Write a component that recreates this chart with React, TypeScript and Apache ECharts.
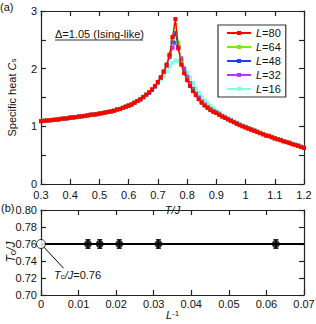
import React, { useEffect, useRef } from "react";
import * as echarts from "echarts";

// ---------- Data (panel a) ----------
const T = [
  0.30, 0.31, 0.32, 0.33, 0.34, 0.35, 0.36, 0.37, 0.38, 0.39,
  0.40, 0.41, 0.42, 0.43, 0.44, 0.45, 0.46, 0.47, 0.48, 0.49,
  0.50, 0.51, 0.52, 0.53, 0.54, 0.55, 0.56, 0.57, 0.58, 0.59,
  0.60, 0.61, 0.62, 0.63, 0.64, 0.65, 0.66, 0.67, 0.68, 0.69,
  0.70, 0.71, 0.72, 0.73, 0.74, 0.75, 0.76, 0.77, 0.78, 0.79,
  0.80, 0.81, 0.82, 0.83, 0.84, 0.85, 0.86, 0.87, 0.88, 0.89,
  0.90, 0.91, 0.92, 0.93, 0.94, 0.95, 0.96, 0.97, 0.98, 0.99,
  1.00, 1.01, 1.02, 1.03, 1.04, 1.05, 1.06, 1.07, 1.08, 1.09,
  1.10, 1.11, 1.12, 1.13, 1.14, 1.15, 1.16, 1.17, 1.18, 1.19,
  1.20,
];

const cs80 = [
  1.09, 1.095, 1.10, 1.105, 1.11, 1.115, 1.12, 1.13, 1.135, 1.14,
  1.15, 1.155, 1.16, 1.17, 1.175, 1.18, 1.19, 1.20, 1.205, 1.21,
  1.22, 1.23, 1.24, 1.25, 1.26, 1.27, 1.29, 1.30, 1.32, 1.34,
  1.36, 1.38, 1.41, 1.44, 1.47, 1.51, 1.55, 1.59, 1.64, 1.70,
  1.77, 1.85, 1.95, 2.07, 2.24, 2.55, 2.86, 2.35, 2.07, 1.92,
  1.80, 1.70, 1.61, 1.54, 1.47, 1.41, 1.36, 1.32, 1.28, 1.25,
  1.23, 1.20, 1.17, 1.145, 1.12, 1.095, 1.07, 1.045, 1.02, 1.00,
  0.98, 0.96, 0.94, 0.92, 0.90, 0.88, 0.86, 0.84, 0.83, 0.81,
  0.79, 0.775, 0.76, 0.74, 0.725, 0.71, 0.69, 0.675, 0.66, 0.64,
  0.625,
];

const cs64 = [
  1.092, 1.098, 1.10, 1.108, 1.112, 1.118, 1.122, 1.13, 1.137, 1.143,
  1.152, 1.157, 1.163, 1.17, 1.177, 1.183, 1.19, 1.20, 1.207, 1.213,
  1.222, 1.232, 1.242, 1.252, 1.263, 1.274, 1.29, 1.303, 1.322, 1.342,
  1.362, 1.383, 1.41, 1.44, 1.47, 1.51, 1.55, 1.595, 1.645, 1.70,
  1.77, 1.85, 1.95, 2.07, 2.24, 2.52, 2.76, 2.45, 2.10, 1.93,
  1.81, 1.71, 1.62, 1.545, 1.475, 1.415, 1.365, 1.325, 1.285, 1.255,
  1.232, 1.202, 1.172, 1.147, 1.122, 1.097, 1.072, 1.047, 1.022, 1.002,
  0.982, 0.962, 0.942, 0.922, 0.902, 0.882, 0.862, 0.843, 0.832, 0.812,
  0.792, 0.777, 0.762, 0.742, 0.727, 0.712, 0.692, 0.677, 0.662, 0.642,
  0.627,
];

const cs48 = [
  1.088, 1.093, 1.098, 1.103, 1.108, 1.113, 1.118, 1.128, 1.133, 1.138,
  1.148, 1.153, 1.158, 1.168, 1.173, 1.178, 1.188, 1.198, 1.203, 1.208,
  1.218, 1.228, 1.238, 1.248, 1.258, 1.268, 1.288, 1.298, 1.318, 1.338,
  1.358, 1.378, 1.408, 1.438, 1.468, 1.505, 1.545, 1.585, 1.635, 1.695,
  1.765, 1.845, 1.945, 2.06, 2.23, 2.47, 2.62, 2.38, 2.12, 1.95,
  1.82, 1.72, 1.63, 1.55, 1.48, 1.42, 1.37, 1.33, 1.29, 1.26,
  1.235, 1.205, 1.175, 1.15, 1.125, 1.10, 1.075, 1.05, 1.025, 1.005,
  0.985, 0.965, 0.945, 0.925, 0.905, 0.885, 0.865, 0.845, 0.835, 0.815,
  0.795, 0.78, 0.765, 0.745, 0.73, 0.715, 0.695, 0.68, 0.665, 0.645,
  0.63,
];

const cs32 = [
  1.092, 1.097, 1.102, 1.107, 1.112, 1.117, 1.122, 1.132, 1.137, 1.142,
  1.152, 1.157, 1.162, 1.172, 1.177, 1.182, 1.192, 1.202, 1.207, 1.212,
  1.222, 1.232, 1.242, 1.252, 1.262, 1.272, 1.292, 1.302, 1.322, 1.342,
  1.362, 1.382, 1.41, 1.44, 1.47, 1.505, 1.545, 1.585, 1.635, 1.69,
  1.76, 1.84, 1.94, 2.05, 2.20, 2.36, 2.45, 2.36, 2.18, 2.00,
  1.86, 1.75, 1.65, 1.57, 1.50, 1.43, 1.38, 1.335, 1.295, 1.26,
  1.235, 1.205, 1.175, 1.15, 1.125, 1.10, 1.075, 1.05, 1.025, 1.005,
  0.985, 0.965, 0.945, 0.925, 0.905, 0.885, 0.865, 0.845, 0.833, 0.813,
  0.793, 0.778, 0.763, 0.743, 0.728, 0.713, 0.693, 0.678, 0.663, 0.643,
  0.628,
];

const cs16 = [
  1.095, 1.10, 1.105, 1.11, 1.115, 1.12, 1.125, 1.133, 1.14, 1.145,
  1.153, 1.158, 1.163, 1.172, 1.178, 1.183, 1.192, 1.20, 1.207, 1.213,
  1.222, 1.232, 1.242, 1.252, 1.262, 1.272, 1.29, 1.30, 1.32, 1.34,
  1.358, 1.378, 1.405, 1.435, 1.465, 1.50, 1.54, 1.58, 1.63, 1.68,
  1.74, 1.81, 1.88, 1.96, 2.04, 2.10, 2.14, 2.13, 2.08, 2.01,
  1.93, 1.84, 1.75, 1.66, 1.58, 1.51, 1.45, 1.40, 1.35, 1.31,
  1.27, 1.24, 1.20, 1.17, 1.14, 1.115, 1.09, 1.065, 1.04, 1.015,
  0.995, 0.972, 0.95, 0.93, 0.91, 0.89, 0.87, 0.85, 0.838, 0.818,
  0.798, 0.782, 0.766, 0.746, 0.73, 0.715, 0.695, 0.68, 0.665, 0.645,
  0.63,
];

const seriesNames = ["L=16", "L=32", "L=48", "L=64", "L=80"];
const seriesColors = ["#80ffe0", "#bb33ff", "#1f3dff", "#77ee00", "#ff0000"];
const seriesValues = [cs16, cs32, cs48, cs64, cs80];

// ---------- Data (panel b) ----------
const invL = [0.0125, 0.015625, 0.020833, 0.03125, 0.0625];
const tcL = [0.76, 0.76, 0.76, 0.76, 0.76];
const tcErr = [0.005, 0.005, 0.005, 0.005, 0.005];
const tcExtrap = 0.76;
const invLRange = [0, 0.07];

const FONT = "'Liberation Sans', Arial, Helvetica, sans-serif";
const AX = "#222";

export default function App() {
  const ref = useRef<HTMLDivElement>(null);

  useEffect(() => {
    if (!ref.current) return;
    const chart = echarts.init(ref.current, undefined, { renderer: "svg" });

    const axisLine = { show: true, onZero: false, lineStyle: { color: AX, width: 1.2 } };
    const tick = (len: number) => ({
      show: true,
      inside: true,
      length: len,
      lineStyle: { color: AX, width: 1.2 },
    });
    const labelStyle = { color: "#111", fontSize: 11, fontFamily: FONT };

    const lineSeries = seriesNames.map((name, i) => ({
      name,
      type: "line",
      xAxisIndex: 0,
      yAxisIndex: 0,
      data: T.map((t, j) => [t, seriesValues[i][j]]),
      symbol: "rect",
      symbolSize: 4,
      showSymbol: true,
      lineStyle: { color: seriesColors[i], width: 1.3 },
      itemStyle: { color: seriesColors[i] },
      z: 2 + i,
    }));

    const option: any = {
      animation: false,
      textStyle: { fontFamily: FONT },
      grid: [
        { left: 41, right: 12, top: 11, bottom: 140, containLabel: false, outerBoundsMode: "none" },
        { left: 41, right: 12, top: 210, bottom: 29, containLabel: false, outerBoundsMode: "none" },
      ],
      legend: {
        data: ["L=80", "L=64", "L=48", "L=32", "L=16"],
        orient: "vertical",
        left: 218,
        top: 25,
        itemWidth: 24,
        itemHeight: 5,
        itemGap: 2,
        padding: [2, 5, 2, 8],
        borderColor: "#333",
        borderWidth: 1.2,
        backgroundColor: "#fff",
        formatter: (n: string) => "{i|L}=" + n.slice(2),
        textStyle: {
          fontSize: 11,
          fontFamily: FONT,
          color: "#111",
          lineHeight: 12,
          rich: { i: { fontStyle: "italic", fontSize: 11, fontFamily: FONT, lineHeight: 12 } },
        },
      },
      xAxis: [
        {
          gridIndex: 0,
          type: "value",
          min: 0.3,
          max: 1.2,
          interval: 0.1,
          position: "bottom",
          axisLine,
          axisTick: tick(5),
          splitLine: { show: false },
          axisLabel: { ...labelStyle, margin: 5 },
          name: "T/J",
          nameLocation: "middle",
          nameGap: 18,
          nameTextStyle: { fontStyle: "italic", fontSize: 11, color: "#111", fontFamily: FONT },
        },
        {
          gridIndex: 0,
          type: "value",
          min: 0.3,
          max: 1.2,
          interval: 0.1,
          position: "top",
          axisLine,
          axisTick: tick(5),
          splitLine: { show: false },
          axisLabel: { show: false },
        },
        {
          gridIndex: 1,
          type: "value",
          min: invLRange[0],
          max: invLRange[1],
          interval: 0.01,
          position: "bottom",
          axisLine,
          axisTick: tick(5),
          splitLine: { show: false },
          axisLabel: {
            ...labelStyle,
            margin: 3,
            formatter: (v: number) => (v === 0 ? "0" : v.toFixed(2)),
          },
          name: "{i|L}{sup|-1}",
          nameLocation: "middle",
          nameGap: 14,
          nameTextStyle: {
            color: "#111",
            fontFamily: FONT,
            rich: {
              i: { fontStyle: "italic", fontSize: 11, fontFamily: FONT, color: "#111" },
              sup: { fontSize: 8, verticalAlign: "top", fontFamily: FONT, color: "#111" },
            },
          },
        },
        {
          gridIndex: 1,
          type: "value",
          min: invLRange[0],
          max: invLRange[1],
          interval: 0.01,
          position: "top",
          axisLine,
          axisTick: tick(5),
          splitLine: { show: false },
          axisLabel: { show: false },
        },
      ],
      yAxis: [
        {
          gridIndex: 0,
          type: "value",
          min: 0,
          max: 3,
          interval: 0.5,
          position: "left",
          axisLine,
          axisTick: tick(5),
          splitLine: { show: false },
          axisLabel: {
            ...labelStyle,
            margin: 4,
            padding: [0, 0, 3, 0],
            formatter: (v: number) => (Math.abs(v - Math.round(v)) < 1e-9 ? String(Math.round(v)) : ""),
          },
          name: "Specific heat {i|C}{sub|s}",
          nameLocation: "middle",
          nameRotate: 90,
          nameGap: 24,
          nameTextStyle: {
            fontSize: 11,
            color: "#111",
            fontFamily: FONT,
            rich: {
              i: { fontStyle: "italic", fontSize: 11, fontFamily: FONT, color: "#111" },
              sub: { fontSize: 8, verticalAlign: "bottom", fontFamily: FONT, color: "#111" },
            },
          },
        },
        {
          gridIndex: 0,
          type: "value",
          min: 0,
          max: 3,
          interval: 0.5,
          position: "right",
          axisLine,
          axisTick: tick(5),
          splitLine: { show: false },
          axisLabel: { show: false },
        },
        {
          gridIndex: 1,
          type: "value",
          min: 0.7,
          max: 0.8,
          interval: 0.02,
          position: "left",
          axisLine,
          axisTick: tick(5),
          splitLine: { show: false },
          axisLabel: { ...labelStyle, margin: 4, formatter: (v: number) => v.toFixed(2) },
        },
        {
          gridIndex: 1,
          type: "value",
          min: 0.7,
          max: 0.8,
          interval: 0.02,
          position: "right",
          axisLine,
          axisTick: tick(5),
          splitLine: { show: false },
          axisLabel: { show: false },
        },
      ],
      series: [
        ...lineSeries,
        {
          name: "fit",
          type: "line",
          xAxisIndex: 2,
          yAxisIndex: 2,
          data: [
            [invLRange[0], tcExtrap],
            [invLRange[1], tcExtrap],
          ],
          showSymbol: false,
          symbol: "none",
          lineStyle: { color: "#000", width: 2 },
          z: 2,
        },
        {
          name: "leader",
          type: "line",
          xAxisIndex: 2,
          yAxisIndex: 2,
          data: [
            [0, tcExtrap],
            [0.006, 0.7315],
          ],
          symbol: "none",
          lineStyle: { color: "#000", width: 1 },
          z: 2,
        },
        {
          name: "err",
          type: "custom",
          xAxisIndex: 2,
          yAxisIndex: 2,
          data: invL.map((x, i) => [x, tcL[i], tcErr[i]]),
          encode: { x: 0, y: 1 },
          renderItem: (params: any, api: any) => {
            const x = api.value(0);
            const y = api.value(1);
            const e = api.value(2);
            const top = api.coord([x, y + e]);
            const bot = api.coord([x, y - e]);
            const w = 2.5;
            const st = { stroke: "#000", lineWidth: 1.2 };
            return {
              type: "group",
              children: [
                { type: "line", shape: { x1: top[0], y1: top[1], x2: bot[0], y2: bot[1] }, style: st },
                { type: "line", shape: { x1: top[0] - w, y1: top[1], x2: top[0] + w, y2: top[1] }, style: st },
                { type: "line", shape: { x1: bot[0] - w, y1: bot[1], x2: bot[0] + w, y2: bot[1] }, style: st },
              ],
            };
          },
          z: 3,
        },
        {
          name: "Tc(L)",
          type: "scatter",
          xAxisIndex: 2,
          yAxisIndex: 2,
          data: invL.map((x, i) => [x, tcL[i]]),
          symbol: "circle",
          symbolSize: 8,
          itemStyle: { color: "#000" },
          z: 4,
        },
        {
          name: "Tc(inf)",
          type: "scatter",
          xAxisIndex: 2,
          yAxisIndex: 2,
          data: [[0, tcExtrap]],
          symbol: "circle",
          symbolSize: 9,
          clip: false,
          itemStyle: { color: "#fff", borderColor: "#000", borderWidth: 1 },
          z: 5,
        },
      ],
      graphic: [
        {
          type: "text",
          left: 0,
          top: 1,
          style: { text: "(a)", fontSize: 11, fontFamily: FONT, fill: "#111" },
        },
        {
          type: "text",
          left: 1,
          top: 202,
          style: { text: "(b)", fontSize: 11, fontFamily: FONT, fill: "#111" },
        },
        {
          type: "text",
          left: 55,
          top: 28,
          style: { text: "Δ=1.05 (Ising-like)", fontSize: 11, fontFamily: FONT, fill: "#111" },
        },
        {
          type: "line",
          shape: { x1: 55, y1: 40, x2: 143, y2: 40 },
          style: { stroke: "#333", lineWidth: 1 },
        },
        {
          type: "text",
          x: 11,
          y: 252,
          rotation: Math.PI / 2,
          style: {
            text: "{i|T}{sub|c}{i|/J}",
            x: 0,
            y: 0,
            align: "center",
            verticalAlign: "middle",
            fontSize: 12,
            fontFamily: FONT,
            fill: "#111",
            rich: {
              i: { fontStyle: "italic", fontSize: 12, fontFamily: FONT, fill: "#111" },
              sub: { fontSize: 9, verticalAlign: "bottom", fontFamily: FONT, fill: "#111" },
            },
          },
        },
        {
          type: "text",
          left: 54,
          top: 269,
          style: {
            text: "{i|T}{sub|c}{i|/J}=0.76",
            fontSize: 11,
            fontFamily: FONT,
            fill: "#111",
            rich: {
              i: { fontStyle: "italic", fontSize: 11, fontFamily: FONT, fill: "#111" },
              sub: { fontSize: 8, verticalAlign: "bottom", fontFamily: FONT, fill: "#111" },
            },
          },
        },
      ],
    };

    chart.setOption(option);
    return () => chart.dispose();
  }, []);

  return (
    <div
      ref={ref}
      style={{ position: "absolute", left: 0, top: 0, width: 316, height: 324, background: "#fff" }}
    />
  );
}
